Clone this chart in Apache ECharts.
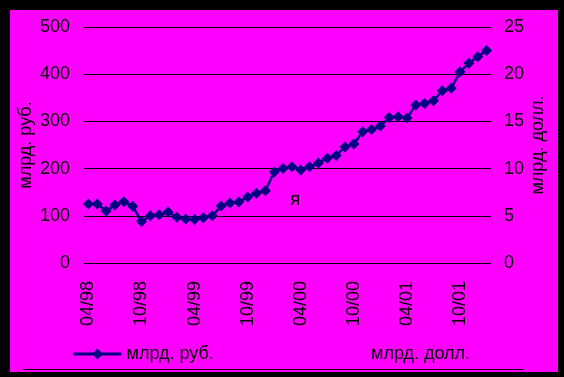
<!DOCTYPE html>
<html>
<head>
<meta charset="utf-8">
<script src="https://cdn.jsdelivr.net/npm/echarts@6/dist/echarts.min.js"></script>
<style>
	html, body { margin: 0; padding: 0; background: #000; }
	#chart { width: 564px; height: 377px; }
</style>
</head>
<body>
<div id="chart"></div>
<script>
	// месяцы 04/98 - 01/02
	var months = ['04/98', '05/98', '06/98', '07/98', '08/98', '09/98', '10/98', '11/98', '12/98',
		'01/99', '02/99', '03/99', '04/99', '05/99', '06/99', '07/99', '08/99', '09/99', '10/99', '11/99', '12/99',
		'01/00', '02/00', '03/00', '04/00', '05/00', '06/00', '07/00', '08/00', '09/00', '10/00', '11/00', '12/00',
		'01/01', '02/01', '03/01', '04/01', '05/01', '06/01', '07/01', '08/01', '09/01', '10/01', '11/01', '12/01',
		'01/02'];
	var rubValues = [125, 125, 110, 123, 130, 120, 88, 100, 102,
		108, 97, 93, 92, 96, 100, 121, 127, 129, 140, 148, 153,
		193, 200, 204, 197, 204, 212, 222, 228, 246, 252, 278, 283,
		290, 308, 310, 307, 335, 338, 344, 365, 370, 405, 423, 437,
		450];
	// вторая серия на картинке не видна
	var usdValues = [];
	var leftTicks = [0, 500, 100];
	var rightTicks = [0, 25, 5];

	var font = 'Liberation Sans, Arial, sans-serif';
	var chart = echarts.init(document.getElementById('chart'));
	var option = {
		backgroundColor: '#000',
		animation: false,
		textStyle: { fontFamily: font },
		graphic: [{
			type: 'rect', z: -100,
			shape: { x: 10, y: 10, width: 548, height: 362 },
			style: { fill: '#ff00ff' }
		}, {
			type: 'line', z: 1,
			shape: { x1: 23, y1: 369.5, x2: 523, y2: 369.5 },
			style: { stroke: '#000', lineWidth: 1 }
		}, {
			type: 'text', z: 1, left: 290, top: 190,
			style: { text: 'я', fill: '#000', font: '19px ' + font }
		}],
		legend: [{
			left: 72, top: 345, padding: 0,
			itemWidth: 48, itemHeight: 14, itemGap: 20,
			data: ['млрд. руб.'],
			lineStyle: { width: 3 },
			textStyle: { color: '#000', fontSize: 18, fontFamily: font }
		}, {
			left: 317, top: 345, padding: 0,
			itemWidth: 48, itemHeight: 14,
			data: ['млрд. долл.'],
			textStyle: { color: '#000', fontSize: 18, fontFamily: font }
		}],
		grid: { left: 84, right: 73, top: 27, bottom: 114, outerBoundsMode: 'none' },
		xAxis: {
			type: 'category',
			data: months,
			axisLine: { show: false },
			axisTick: { show: false },
			axisLabel: { interval: 5, rotate: 90, margin: 18, color: '#000', fontSize: 18, fontFamily: font }
		},
		yAxis: [{
			type: 'value',
			min: leftTicks[0], max: leftTicks[1], interval: leftTicks[2],
			name: 'млрд. руб.', nameLocation: 'middle', nameGap: 49, nameRotate: 90,
			nameMoveOverlap: false,
			nameTextStyle: { color: '#000', fontSize: 18, fontFamily: font },
			axisLine: { show: false },
			axisTick: { show: false },
			axisLabel: { margin: 14, color: '#000', fontSize: 18, fontFamily: font },
			splitLine: { lineStyle: { color: '#000', width: 1 } }
		}, {
			type: 'value',
			min: rightTicks[0], max: rightTicks[1], interval: rightTicks[2],
			name: 'млрд. долл.', nameLocation: 'middle', nameGap: 38, nameRotate: 90,
			nameMoveOverlap: false,
			nameTextStyle: { color: '#000', fontSize: 18, fontFamily: font },
			axisLine: { show: false },
			axisTick: { show: false },
			axisLabel: { margin: 13, color: '#000', fontSize: 18, fontFamily: font },
			splitLine: { show: false }
		}],
		series: [{
			name: 'млрд. руб.',
			type: 'line',
			yAxisIndex: 0,
			data: rubValues,
			symbol: 'diamond',
			symbolSize: 11,
			showAllSymbol: true,
			color: '#000080',
			lineStyle: { color: '#000080', width: 2.5 },
			itemStyle: { color: '#000080' }
		}, {
			name: 'млрд. долл.',
			type: 'line',
			yAxisIndex: 1,
			data: usdValues,
			symbol: 'none',
			color: '#ff00ff',
			lineStyle: { color: '#ff00ff' }
		}]
	};
	chart.setOption(option);
</script>
</body>
</html>
